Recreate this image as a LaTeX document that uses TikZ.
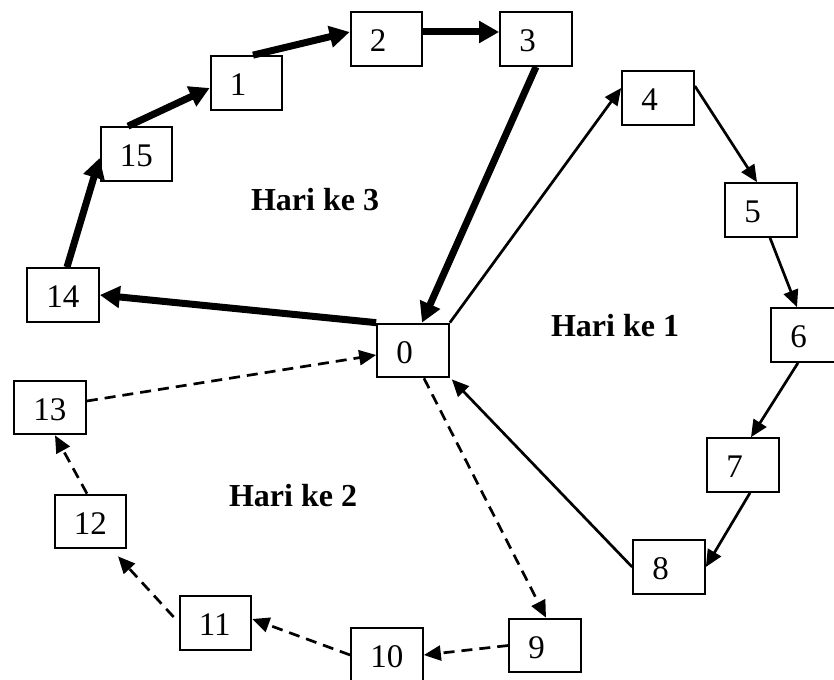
\documentclass[tikz,border=0pt]{standalone}
\usepackage{fontspec}
\setmainfont{Liberation Serif}
\usetikzlibrary{arrows.meta,calc}
\begin{document}
\begin{tikzpicture}[x=1pt,y=-1pt,
  box/.style={draw, line width=2.2pt, rectangle, text width=33.5pt, align=left,
    inner xsep=19pt, inner ysep=0pt, minimum height=53.5pt, text height=25pt,
    text depth=0pt, font=\fontsize{33}{38}\selectfont},
  daylabel/.style={anchor=base, font=\bfseries\fontsize{32}{38}\selectfont},
  thickarrow/.style={line width=7pt, -{Triangle[length=20pt,width=21pt]}},
  thinarrow/.style={line width=2.7pt, -{Triangle[length=17pt,width=15pt]}},
  dasharrow/.style={thinarrow, dash pattern=on 11pt off 7pt}]
\useasboundingbox (0,0) rectangle (834,679);
\clip (0,0) rectangle (834,679);
% boxes
\node[box] (n0)  at (413,350.5) {0};
\node[box] (n1)  at (246.5,83) {1};
\node[box] (n2)  at (386.5,39) {2};
\node[box] (n3)  at (536,39) {3};
\node[box] (n4)  at (658,98) {4};
\node[box] (n5)  at (761,210) {5};
\node[box] (n6)  at (807,335) {6};
\node[box] (n7)  at (743,465) {7};
\node[box] (n8)  at (669,567) {8};
\node[box] (n9)  at (545,645.5) {9};
\node[box] (n10) at (387,655) {10};
\node[box] (n11) at (215.5,623) {11};
\node[box] (n12) at (90.5,521.5) {12};
\node[box] (n13) at (50,407.5) {13};
\node[box] (n14) at (63,295) {14};
\node[box] (n15) at (136.5,154) {15};
% day labels
\node[daylabel] (h3) at (315,210) {Hari ke 3};
\node[daylabel] (h1) at (615,336) {Hari ke 1};
\node[daylabel] (h2) at (293,506) {Hari ke 2};
% Hari ke 3 (thick)
\draw[thickarrow] (n0.north west) -- (n14.east);
\draw[thickarrow] ($(n14.north)+(4,0)$) -- ($(n15.west)+(0,4)$);
\draw[thickarrow] ($(n15.north)+(-8.5,0)$) -- ($(n1.west)+(0,5)$);
\draw[thickarrow] ($(n1.north)+(6.5,0)$) -- ($(n2.west)+(0,-7)$);
\draw[thickarrow] ($(n2.east)+(0,-7)$) -- ($(n3.west)+(0,-7)$);
\draw[thickarrow] (n3.south) -- ($(n0.north)+(9,0)$);
% Hari ke 1 (thin)
\draw[thinarrow] (n0.north east) -- ($(n4.west)+(0,-10)$);
\draw[thinarrow] ($(n4.east)+(0,-12)$) -- ($(n5.north)+(-4,0)$);
\draw[thinarrow] ($(n5.south)+(9,0)$) -- ($(n6.north)+(-10,0)$);
\draw[thinarrow] ($(n6.south)+(-9,0)$) -- ($(n7.north)+(8,0)$);
\draw[thinarrow] ($(n7.south)+(7,0)$) -- (n8.east);
\draw[thinarrow] (n8.west) -- ($(n0.south east)+(2,1)$);
% Hari ke 2 (dashed)
\draw[dasharrow] ($(n0.south)+(11,0)$) -- ($(n9.north)+(1,0)$);
\draw[dasharrow] (n9.west) -- (n10.east);
\draw[dasharrow] (n10.west) -- ($(n11.east)+(0,-4)$);
\draw[dasharrow] ($(n11.west)+(-5,-6)$) -- ($(n12.south)+(27.5,7)$);
\draw[dasharrow] ($(n12.north)+(-3.5,0)$) -- ($(n13.south)+(5,0)$);
\draw[dasharrow] ($(n13.east)+(0,-6.5)$) -- ($(n0.west)+(0,4.5)$);
\end{tikzpicture}
\end{document}
